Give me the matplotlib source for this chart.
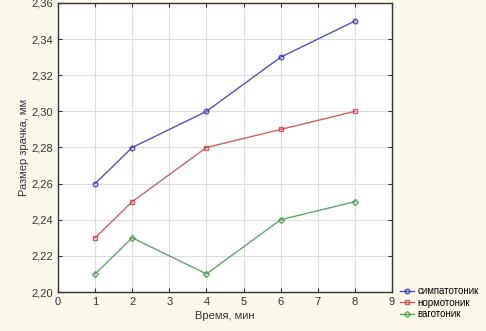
import matplotlib
matplotlib.use("Agg")
import matplotlib.pyplot as plt
from matplotlib.ticker import FuncFormatter

time_min = [1, 2, 4, 6, 8]
simpatotonik = [2.26, 2.28, 2.30, 2.33, 2.35]
normotonik = [2.23, 2.25, 2.28, 2.29, 2.30]
vagotonik = [2.21, 2.23, 2.21, 2.24, 2.25]
labels = ["симпатотоник", "нормотоник", "ваготоник"]
colors = ["#3333bb", "#cc4444", "#44994a"]
markers = ["o", "s", "D"]

plt.rcParams['font.family'] = ['Liberation Sans', 'DejaVu Sans']
fig = plt.figure(figsize=(4.86, 3.31), dpi=100)
fig.patch.set_facecolor("#fdf8ec")
ax = fig.add_axes([58/486, 1 - 292/331, (392-58)/486, (292-3)/331])
ax.set_facecolor("white")

for ys, lab, c, m in zip([simpatotonik, normotonik, vagotonik], labels, colors, markers):
    ax.plot(time_min, ys, color=c, lw=1.0, marker=m, ms=3.3 if m != "D" else 3.0,
            mfc="none", mec=c, mew=1.0, label=lab, alpha=0.85)

ax.set_xlim(0, 9)
ax.set_ylim(2.20, 2.36)
ax.set_xticks(range(0, 10))
ax.set_yticks([2.20 + 0.02*i for i in range(9)])
ax.yaxis.set_major_formatter(FuncFormatter(lambda v, p: f"{v:.2f}".replace(".", ",")))
ax.grid(True, color="#dddddd", lw=0.8)
ax.tick_params(direction="in", top=True, right=True, labelsize=8, colors="#333333", length=3)
for s in ax.spines.values():
    s.set_color("#333333")
    s.set_linewidth(1.0)
ax.set_xlabel("Время, мин", fontsize=8, color="#333333", labelpad=3)
ax.set_ylabel("Размер зрачка, мм", fontsize=8, color="#333333", labelpad=2)

leg = fig.legend(loc="lower right", bbox_to_anchor=(1.0, 0.015), fontsize=7,
                 frameon=False, handlelength=1.4, handletextpad=0.4, labelspacing=0.15,
                 borderaxespad=0.3)
fig.savefig("out.png", dpi=100, facecolor=fig.get_facecolor())
